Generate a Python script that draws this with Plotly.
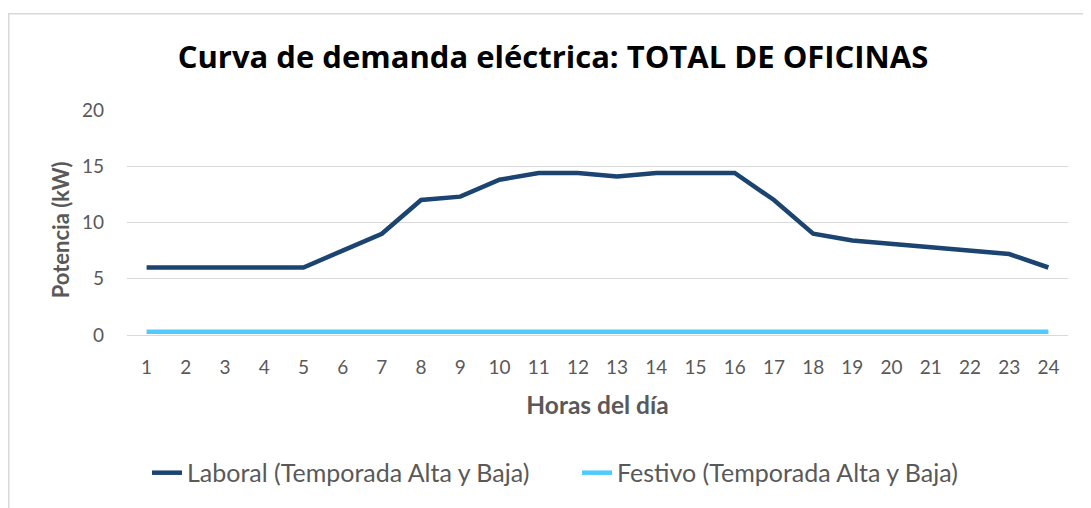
import plotly.graph_objects as go

horas = [str(h) for h in range(1, 25)]
laboral = [6.0, 6.0, 6.0, 6.0, 6.0, 7.5, 9.0, 12.0, 12.3, 13.8, 14.4, 14.4,
           14.1, 14.4, 14.4, 14.4, 12.0, 9.0, 8.4, 8.1, 7.8, 7.5, 7.2, 6.0]
festivo = [0.3] * 24
y_ticks = [0, 5, 10, 15, 20]

FONT = "Lato"
GRAY = "#595959"

fig = go.Figure()
fig.add_trace(go.Scatter(x=horas, y=laboral, mode="lines",
                         name="Laboral (Temporada Alta y Baja)",
                         line=dict(color="#1B4471", width=4.5)))
fig.add_trace(go.Scatter(x=horas, y=festivo, mode="lines",
                         name="Festivo (Temporada Alta y Baja)",
                         line=dict(color="#4FCBFF", width=4.5)))

# page body adds an 8px offset; figure sized to fill the rest of the window
W, H = 1083, 500
L, R, T, B = 119, 1060, 102, 332
pw, ph = R - L, B - T


def px(x):
    return (x - L) / pw


def py(y):
    return (B - y) / ph


fig.update_layout(
    width=W, height=H,
    margin=dict(l=L, r=W - R, t=T, b=H - B),
    paper_bgcolor="white", plot_bgcolor="white",
    font=dict(family=FONT, color=GRAY, size=19),
    title=dict(text="<b>Curva de demanda eléctrica: TOTAL DE OFICINAS</b>",
               x=545 / W, xanchor="center", y=1 - 49 / H, yanchor="middle",
               font=dict(family="Open Sans", size=31, color="black")),
    xaxis=dict(type="category", range=[-0.5, 23.5], showgrid=False,
               showline=True, linecolor="#D9D9D9", linewidth=1,
               ticks="", ticklabelstandoff=15,
               tickfont=dict(size=19, color=GRAY),
               title=dict(text="<b>Horas del día</b>", standoff=20,
                          font=dict(size=24.5, color=GRAY))),
    yaxis=dict(range=[0, 20], tickvals=y_ticks, showgrid=True,
               gridcolor="#D9D9D9", gridwidth=1, zeroline=True,
               zerolinecolor="#D9D9D9", zerolinewidth=1, showline=False,
               ticks="", ticklabelstandoff=22,
               tickfont=dict(size=19, color=GRAY)),
    annotations=[dict(text="<b>Potencia (kW)</b>", textangle=-90,
                      xref="paper", yref="paper", x=px(52), y=py(225),
                      xanchor="center", yanchor="middle", showarrow=False,
                      font=dict(family=FONT, size=22, color=GRAY))],
    legend=dict(orientation="h", x=px(139), xanchor="left",
                y=py(473), yanchor="middle",
                font=dict(size=25, color=GRAY),
                entrywidth=385, entrywidthmode="pixels",
                itemwidth=30, bgcolor="rgba(0,0,0,0)"),
    shapes=[dict(type="rect", xref="paper", yref="paper",
                 x0=px(0.75), x1=px(1100), y0=py(520), y1=py(3.5),
                 line=dict(color="#D9D9D9", width=1.5),
                 fillcolor="rgba(0,0,0,0)", layer="below")],
)

fig.write_html("out.html")
